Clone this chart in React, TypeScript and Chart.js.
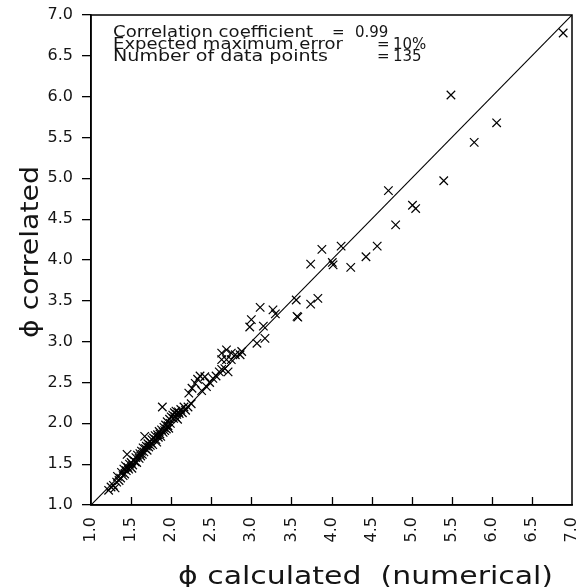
import React, { useEffect, useRef } from "react";
import { Chart, registerables } from "chart.js";

Chart.register(...registerables);

// phi calculated (numerical) – x values
const phiCalculated: number[] = [
  // dense band 1.2 – 2.25
  1.22, 1.25, 1.28, 1.30, 1.32, 1.33, 1.35, 1.37, 1.38, 1.40,
  1.41, 1.42, 1.43, 1.44, 1.45, 1.46, 1.47, 1.48, 1.50, 1.51,
  1.52, 1.53, 1.55, 1.56, 1.57, 1.58, 1.60, 1.61, 1.62, 1.63,
  1.64, 1.65, 1.66, 1.67, 1.68, 1.69, 1.70, 1.71, 1.72, 1.73,
  1.74, 1.75, 1.76, 1.77, 1.78, 1.80, 1.81, 1.82, 1.83, 1.84,
  1.85, 1.86, 1.87, 1.88, 1.89, 1.90, 1.91, 1.92, 1.93, 1.94,
  1.95, 1.96, 1.97, 1.98, 1.99, 2.00, 2.02, 2.03, 2.04, 2.05,
  2.06, 2.07, 2.08, 2.09, 2.10, 2.12, 2.14, 2.16, 2.18, 2.21,
  2.25,
  // 2.2 – 2.65
  2.22, 2.26, 2.30, 2.33, 2.36, 2.42, 2.38, 2.44, 2.48, 2.52,
  2.56, 2.60, 2.63,
  // 2.6 – 2.9
  2.63, 2.69, 2.75, 2.63, 2.69, 2.75, 2.80, 2.86, 2.88, 2.67,
  2.71,
  // sparse upper points
  6.89, 5.49, 6.06, 5.78, 5.40, 4.71, 5.01, 5.05, 4.80, 4.57,
  4.43, 4.12, 3.88, 3.74, 4.01, 4.02, 4.24, 3.56, 3.74, 3.83,
  3.57, 3.58, 3.27, 3.30, 3.11, 3.00, 2.98, 3.15, 3.17, 3.07,
];

// phi correlated – y values
const phiCorrelated: number[] = [
  1.18, 1.22, 1.24, 1.21, 1.28, 1.35, 1.30, 1.33, 1.40, 1.36,
  1.44, 1.38, 1.48, 1.42, 1.62, 1.46, 1.44, 1.50, 1.52, 1.45,
  1.49, 1.55, 1.53, 1.58, 1.52, 1.61, 1.57, 1.63, 1.60, 1.66,
  1.62, 1.70, 1.65, 1.84, 1.69, 1.72, 1.67, 1.75, 1.71, 1.78,
  1.73, 1.76, 1.80, 1.74, 1.82, 1.85, 1.80, 1.77, 1.86, 1.83,
  1.90, 1.87, 1.84, 1.92, 2.20, 1.89, 1.95, 1.91, 1.98, 1.93,
  2.02, 1.97, 1.94, 2.05, 2.00, 2.08, 2.10, 2.06, 2.13, 2.08,
  2.15, 2.11, 2.05, 2.14, 2.12, 2.17, 2.13, 2.20, 2.16, 2.20,
  2.24,
  2.37, 2.43, 2.49, 2.54, 2.58, 2.57, 2.40, 2.45, 2.50, 2.55,
  2.58, 2.63, 2.66,
  2.86, 2.90, 2.86, 2.78, 2.78, 2.78, 2.84, 2.84, 2.88, 2.67,
  2.63,
  6.78, 6.02, 5.68, 5.44, 4.97, 4.85, 4.67, 4.63, 4.43, 4.17,
  4.04, 4.17, 4.13, 3.95, 3.97, 3.94, 3.91, 3.51, 3.46, 3.53,
  3.31, 3.30, 3.39, 3.34, 3.42, 3.27, 3.18, 3.19, 3.04, 2.98,
];

// perfect-agreement line (x = y)
const diagonalEnds: number[] = [1.0, 7.0];

// axis range / ticks
const axisMin = 1.0;
const axisMax = 7.0;
const tickStep = 0.5;

const xTitle = "\u03d5 calculated  (numerical)";
const yTitle = "\u03d5 correlated";

const statLabels: string[] = [
  "Correlation coefficient",
  "Expected maximum error",
  "Number of data points",
];
const statValues: string[] = ["0.99", "10%", "135"];

const FONT = "'DejaVu Sans', 'Liberation Sans', sans-serif";
const INK = "#151515";

function fillStretched(
  ctx: CanvasRenderingContext2D,
  text: string,
  x: number,
  y: number,
  width: number
) {
  const w = ctx.measureText(text).width;
  ctx.save();
  ctx.translate(x, y);
  ctx.scale(width / w, 1);
  ctx.fillText(text, 0, 0);
  ctx.restore();
}

export default function App() {
  const canvasRef = useRef<HTMLCanvasElement | null>(null);

  useEffect(() => {
    const canvas = canvasRef.current;
    if (!canvas) return;

    const points = phiCalculated.map((x, i) => ({ x, y: phiCorrelated[i] }));
    const diagonal = diagonalEnds.map((v) => ({ x: v, y: v }));

    const decor = {
      id: "decor",
      afterDatasetsDraw(chart: any) {
        const ctx: CanvasRenderingContext2D = chart.ctx;
        const { left, right, top, bottom } = chart.chartArea;
        const xs = chart.scales.x;
        ctx.save();
        // frame
        ctx.strokeStyle = "#000";
        ctx.lineWidth = 1.5;
        ctx.strokeRect(left, top, right - left, bottom - top);
        // inward x ticks
        ctx.lineWidth = 1.3;
        for (let v = axisMin + tickStep; v < axisMax - 1e-9; v += tickStep) {
          const px = Math.round(xs.getPixelForValue(v)) + 0.5;
          ctx.beginPath();
          ctx.moveTo(px, bottom);
          ctx.lineTo(px, bottom - 8);
          ctx.stroke();
        }
        // statistics block
        ctx.fillStyle = INK;
        ctx.font = `15px ${FONT}`;
        ctx.textBaseline = "alphabetic";
        ctx.textAlign = "left";
        const labelW = [200, 230, 215];
        const eqX = [332, 377, 377];
        const valX = [355, 393, 393];
        const base = [37, 49, 61];
        for (let i = 0; i < statLabels.length; i++) {
          fillStretched(ctx, statLabels[i], left + 22, base[i], labelW[i]);
          ctx.fillText("=", eqX[i], base[i]);
          ctx.fillText(statValues[i], valX[i], base[i]);
        }
        // axis titles
        ctx.font = `24px ${FONT}`;
        ctx.textAlign = "left";
        fillStretched(ctx, xTitle, 178, 584, 375);
        ctx.save();
        ctx.translate(38, 252);
        ctx.rotate(-Math.PI / 2);
        const yw = 172;
        fillStretched(ctx, yTitle, -yw / 2, 0, yw);
        ctx.restore();
        ctx.restore();
      },
    };

    const tickFont = { family: FONT, size: 16 };

    const chart = new Chart(canvas, {
      type: "scatter",
      data: {
        datasets: [
          {
            type: "scatter",
            data: points,
            pointStyle: "crossRot",
            pointRadius: 6,
            pointHoverRadius: 6,
            borderColor: "#000",
            backgroundColor: "#000",
            borderWidth: 1.2,
          } as any,
          {
            type: "line",
            data: diagonal,
            borderColor: "#000",
            borderWidth: 1.1,
            pointRadius: 0,
            fill: false,
            tension: 0,
          } as any,
        ],
      },
      options: {
        animation: false,
        responsive: false,
        maintainAspectRatio: false,
        devicePixelRatio: 1,
        layout: { padding: { top: 15, right: 13, left: 0, bottom: 0 } },
        plugins: {
          legend: { display: false },
          tooltip: { enabled: false },
          title: { display: false },
        },
        scales: {
          x: {
            type: "linear",
            min: axisMin,
            max: axisMax,
            afterFit: (s: any) => {
              s.height = 82;
              s.paddingLeft = 0;
              s.paddingRight = 0;
            },
            ticks: {
              stepSize: tickStep,
              minRotation: 90,
              maxRotation: 90,
              padding: 12,
              color: INK,
              font: tickFont,
              callback: (v: any) => Number(v).toFixed(1),
            },
            grid: { display: false, drawTicks: false },
            border: { display: true, color: "#000", width: 1.5 },
          },
          y: {
            type: "linear",
            min: axisMin,
            max: axisMax,
            afterFit: (s: any) => {
              s.width = 91;
              s.paddingTop = 0;
              s.paddingBottom = 0;
            },
            ticks: {
              stepSize: tickStep,
              padding: 9,
              color: INK,
              font: tickFont,
              callback: (v: any) => Number(v).toFixed(1),
            },
            grid: {
              display: true,
              drawOnChartArea: false,
              drawTicks: true,
              tickLength: 9,
              color: "#000",
              lineWidth: 1.3,
            },
            border: { display: true, color: "#000", width: 1.5 },
          },
        },
      } as any,
      plugins: [decor],
    });

    return () => chart.destroy();
  }, []);

  return (
    <div style={{ position: "absolute", left: 0, top: 0, width: 585, height: 587, background: "#fff" }}>
      <canvas ref={canvasRef} width={585} height={587} style={{ display: "block" }} />
    </div>
  );
}
